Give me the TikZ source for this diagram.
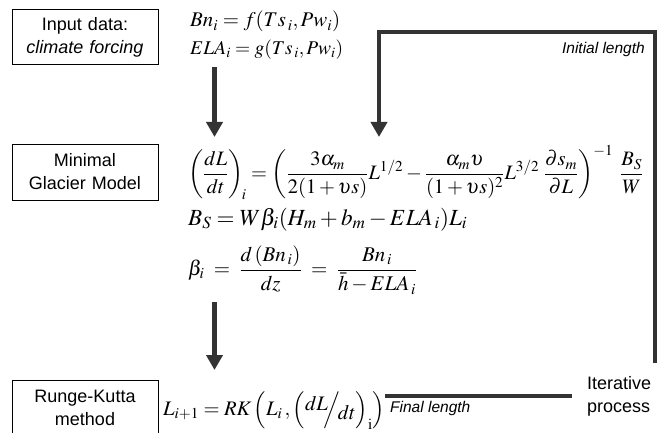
\documentclass[tikz,border=0pt]{standalone}
\usepackage{mathptmx}
\usepackage{fontspec}
\setmainfont{Liberation Sans}
\usepackage{graphicx}
\usetikzlibrary{arrows.meta}
\definecolor{lc}{HTML}{333333}
\newcommand\eqfit[2]{\resizebox{#1}{!}{#2}}
\begin{document}
\begin{tikzpicture}[x=1pt,y=-1pt,
  lbox/.style={draw=black, line width=1pt, minimum width=146pt, text width=140pt, align=center,
    font=\fontsize{18}{23}\selectfont, inner sep=0pt},
  eq/.style={anchor=base west, inner sep=0pt, font=\fontsize{20}{24}\selectfont},
  thickline/.style={draw=lc, line width=4pt},
  bigarrow/.style={draw=lc, line width=5pt, -{Triangle[length=15pt,width=16pt]}},
  small/.style={font=\fontsize{15.5}{18}\selectfont\itshape, inner sep=0pt},
  side/.style={font=\fontsize{18}{23}\selectfont, align=left, inner sep=0pt, anchor=west}
]
\clip (0,0) rectangle (658,433);
\fill[white] (0,0) rectangle (658,433);

% boxes
\node[lbox, minimum height=55pt] (inp) at (85,37.5) {Input data:\\ \itshape climate forcing};
\node[lbox, minimum height=56pt] (mgm) at (85,172) {Minimal\\ Glacier Model};
\node[lbox, minimum height=56pt] (rk) at (85,408) {Runge-Kutta\\ method};

% equations
\node[eq] (e1) at (190,27) {\eqfit{150pt}{$Bn_i = f(Ts_{\,i}, Pw_i)$}};
\node[eq] (e2) at (190,55) {\eqfit{153pt}{$ELA_i = g(Ts_{\,i}, Pw_i)$}};
\node[eq, anchor=west] (e3) at (188,173) {\eqfit{455pt}{$\displaystyle \left(\frac{dL}{dt}\right)_{\!i} = \left(\frac{3\alpha_m}{2(1+\upsilon s)}L^{1/2} - \frac{\alpha_m\upsilon}{(1+\upsilon s)^2}L^{3/2}\;\frac{\partial s_m}{\partial L}\right)^{-1}\;\frac{B_S}{W}$}};
\node[eq] (e4) at (188,225) {\eqfit{279pt}{$B_S = W\beta_i(H_m + b_m - ELA_{\,i})L_i$}};
\node[eq, anchor=west] (e5) at (188,270) {\eqfit{229pt}{$\displaystyle \beta_i \;=\; \frac{d\left(Bn_{\,i}\right)}{dz} \;=\; \frac{Bn_{\,i}}{\bar h - ELA_{\,i}}$}};
\node[eq] (e6) at (163,415) {\eqfit{222pt}{$L_{i+1} = RK\left(L_i\,, \left(\raisebox{4pt}{$dL$}\!\!\Big/\!\raisebox{-4pt}{$dt$}\right)_{\mathrm{i}}\right)$}};

% labels
\node[small, anchor=east] (il) at (645,49) {Initial length};
\node[small, anchor=base west] (fl) at (390,412) {Final length};
\node[side] (it) at (587,396) {Iterative\\ process};

% connectors
\coordinate (a1s) at (214.5,67);
\coordinate (a1e) at (214.5,137);
\draw[bigarrow] (a1s) -- (a1e);
\coordinate (a2s) at (214.5,302);
\coordinate (a2e) at (214.5,370);
\draw[bigarrow] (a2s) -- (a2e);

\coordinate (l1) at (655,363);
\coordinate (l2) at (655,32);
\coordinate (l3) at (379,32);
\coordinate (l4) at (379,137);
\draw[thickline, -{Triangle[length=15pt,width=16pt]}] (l1) -- (l2) -- (l3) -- (l4);

\coordinate (f1) at (385,396);
\coordinate (f2) at (572,396);
\draw[thickline] (f1) -- (f2);
\end{tikzpicture}
\end{document}
